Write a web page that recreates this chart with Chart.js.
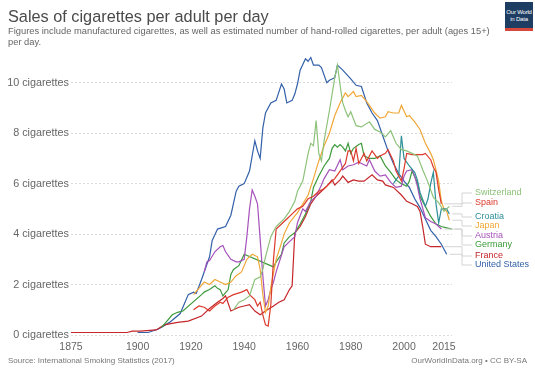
<!DOCTYPE html>
<html><head><meta charset="utf-8">
<script src="https://cdn.jsdelivr.net/npm/chart.js@4"></script>
<style>
body{margin:0;background:#fff;overflow:hidden;font-family:"Liberation Sans",Arial,sans-serif;}
#wrap{position:relative;width:535px;height:377px;}
canvas{position:absolute;left:0;top:0;}
.t{position:absolute;white-space:nowrap;line-height:1;}
#title{left:8px;top:8px;font-size:16.3px;color:#4a4a4a;}
#sub{left:8px;top:26px;font-size:9.35px;line-height:10.5px;color:#666;white-space:normal;width:490px;}
#src{left:8px;top:357px;font-size:8px;color:#777;}
#lic{right:8px;top:357px;font-size:8px;color:#777;}
#logo{position:absolute;left:505px;top:2px;width:28px;height:29px;background:#1d3d63;color:#fff;font-size:6px;letter-spacing:-0.2px;line-height:7px;text-align:center;box-sizing:border-box;padding-top:7px;border-bottom:3px solid #d6473c;white-space:nowrap;}
.lg{position:absolute;left:475px;font-size:9px;line-height:1;white-space:nowrap;}
</style></head>
<body><div id="wrap">
<canvas id="c" width="535" height="377"></canvas>
<div class="t" id="title">Sales of cigarettes per adult per day</div>
<div class="t" id="sub">Figures include manufactured cigarettes, as well as estimated number of hand-rolled cigarettes, per adult (ages 15+) per day.</div>
<div id="logo">Our World<br>in Data</div>
<div class="t" id="src">Source: International Smoking Statistics (2017)</div>
<div class="t" id="lic">OurWorldInData.org • CC BY-SA</div>
<div id="legend"></div>
</div>
<script>
// ---- data ----
const xTickYears = [1875,1900,1920,1940,1960,1980,2000,2015];
const yTickValues = [0,2,4,6,8,10];

const usYears = [1900,1904,1908,1912,1916,1919,1921,1922,1924,1927,1928,1930,1933,1935,1937,1938,1940,1942,1944,1945,1946,1947,1948,1950,1952,1954,1955,1956,1958,1959,1960,1961,1963,1964,1965,1966,1968,1969,1971,1972,1974,1975,1977,1980,1982,1984,1986,1988,1990,1992,1994,1996,1998,2000,2002,2004,2006,2008,2010,2012,2014,2016];
const usValues = [0.1,0.1,0.25,0.5,0.85,1.6,1.7,1.65,2.2,3.1,3.75,4.2,4.3,4.75,5.7,5.9,6.0,6.5,7.7,7.3,7.0,8.2,8.8,9.2,9.3,9.95,9.75,9.2,9.3,9.55,9.95,10.5,10.95,10.85,11.0,10.7,10.7,10.6,10.0,10.1,10.2,10.7,10.5,10.15,9.9,9.85,9.2,8.8,8.5,7.9,7.3,6.8,6.4,6.1,5.85,5.4,5.05,4.6,4.15,3.9,3.6,3.2];

const franceYears = [1875,1896,1898,1901,1907,1910,1915,1919,1924,1927,1930,1932,1933,1935,1938,1940,1942,1944,1946,1948,1951,1953,1955,1957,1958,1959,1961,1963,1965,1967,1969,1971,1973,1974,1976,1977,1979,1981,1983,1985,1988,1990,1992,1993,1996,1999,2001,2003,2005,2006,2007,2008,2010,2012,2014];
const franceValues = [0.1,0.1,0.15,0.15,0.2,0.4,0.5,0.55,0.75,1.05,1.3,1.45,1.55,0.95,1.1,1.15,1.2,0.95,0.8,0.95,1.15,1.3,1.4,1.8,1.95,4.05,4.3,4.7,5.2,5.5,5.7,5.9,6.15,5.95,6.15,6.3,6.05,6.15,6.1,6.1,6.35,6.15,6.1,5.95,5.85,5.55,5.3,5.2,5.1,4.9,4.3,3.6,3.5,3.5,3.5];

const spainYears = [1921,1923,1925,1927,1929,1931,1932,1934,1936,1939,1941,1942,1944,1945,1946,1947,1948,1949,1950,1951,1952,1954,1956,1958,1960,1962,1964,1966,1968,1970,1972,1974,1976,1978,1979,1980,1981,1982,1983,1985,1986,1988,1990,1991,1993,1994,1996,1997,1999,2000,2001,2003,2005,2007,2008,2010,2011,2012,2013,2014];
const spainValues = [1.0,1.15,1.1,0.95,1.15,1.3,1.25,1.5,1.6,1.7,1.8,1.6,1.4,1.15,1.3,0.8,0.4,0.35,1.2,3.0,4.2,4.4,4.6,4.8,5.0,5.1,5.4,5.5,5.7,5.8,6.0,6.2,6.5,6.8,7.3,7.3,6.9,7.4,6.8,7.2,6.9,7.3,7.0,7.1,7.2,7.35,6.9,6.5,6.1,6.6,7.2,7.15,7.15,7.15,7.2,6.95,6.65,6.45,5.75,5.2];

const germanyYears = [1909,1911,1913,1915,1917,1924,1925,1927,1929,1930,1931,1932,1934,1935,1936,1938,1940,1951,1952,1954,1955,1957,1959,1961,1963,1965,1966,1968,1970,1972,1973,1974,1975,1976,1977,1978,1979,1980,1981,1983,1984,1985,1987,1989,1991,1993,1995,1997,1999,2001,2002,2003,2005,2006,2008,2010,2012,2014,2016,2018];
const germanyValues = [0.3,0.55,0.8,0.9,0.95,1.6,1.7,1.8,1.95,1.85,1.8,1.55,1.8,2.4,2.6,2.75,3.2,2.7,2.9,3.2,3.65,3.9,4.05,4.4,4.8,5.3,5.85,6.3,6.7,7.0,7.4,7.55,7.45,7.55,7.45,7.3,7.6,7.2,7.4,7.55,7.6,7.1,7.0,7.0,7.1,6.7,6.45,6.15,6.0,5.9,6.1,6.5,6.05,5.5,5.1,4.7,4.4,4.3,4.25,4.2];

const austriaYears = [1925,1926,1927,1929,1931,1932,1933,1935,1937,1938,1940,1941,1942,1943,1944,1945,1946,1947,1948,1949,1950,1951,1952,1955,1957,1959,1960,1962,1963,1965,1967,1969,1970,1972,1974,1976,1977,1979,1981,1983,1986,1987,1989,1991,1993,1995,1997,1999,2000,2001,2003,2004,2005,2006,2008,2010,2012,2014];
const austriaValues = [2.5,2.9,2.95,3.3,3.5,3.55,3.3,3.0,2.9,2.9,3.0,3.9,5.0,5.75,5.5,5.2,3.8,2.35,1.15,1.4,1.8,2.1,2.5,3.5,3.7,3.9,4.45,5.0,4.9,5.3,5.5,5.95,6.2,6.55,6.5,6.95,6.55,6.7,6.75,6.85,6.7,6.95,6.5,6.3,6.35,6.05,5.85,5.9,6.3,6.5,6.55,6.3,5.9,5.4,4.65,4.5,4.4,4.2];

const japanYears = [1921,1925,1927,1929,1931,1933,1935,1937,1939,1941,1943,1945,1946,1947,1948,1949,1950,1952,1954,1955,1957,1960,1962,1964,1966,1968,1970,1972,1974,1976,1977,1978,1979,1981,1982,1984,1986,1987,1989,1991,1993,1994,1996,1998,1999,2001,2002,2004,2006,2008,2010,2011,2012,2013,2014,2015,2016,2017];
const japanValues = [1.6,2.1,2.0,2.2,2.1,2.0,2.1,2.35,2.5,3.0,3.2,3.1,2.6,1.6,0.9,1.15,1.9,3.0,3.65,4.0,4.45,4.85,5.2,5.55,6.2,6.9,7.5,8.0,8.7,9.2,9.4,9.6,9.45,9.65,9.45,9.5,9.25,9.1,8.8,8.6,8.65,8.85,8.8,8.8,9.1,8.65,8.7,8.45,8.15,7.6,7.2,6.95,6.55,6.1,5.3,5.0,4.9,4.55];

const croatiaYears = [1996,1998,1999,2000,2002,2004,2005,2006,2008,2009,2010,2011,2012,2013,2014,2016,2017];
const croatiaValues = [6.0,6.3,7.9,7.0,6.7,6.45,6.15,5.65,5.1,5.4,6.0,6.45,5.2,4.45,5.0,5.0,4.8];

const switzerlandYears = [1936,1938,1940,1942,1944,1946,1947,1948,1950,1951,1952,1953,1955,1957,1959,1960,1962,1964,1965,1966,1967,1968,1969,1970,1972,1974,1975,1976,1977,1978,1979,1980,1982,1984,1987,1989,1991,1993,1995,1997,1999,2001,2003,2005,2007,2009,2011,2013,2015,2017];
const switzerlandValues = [1.0,1.3,1.4,1.55,2.2,2.3,2.6,3.1,3.9,4.1,4.3,4.4,4.6,4.9,5.3,5.7,6.1,7.2,7.6,7.5,8.5,7.2,6.9,7.7,8.9,10.2,10.7,9.9,9.2,8.9,8.65,8.85,8.3,8.25,8.45,8.15,8.05,7.85,8.1,7.6,7.35,7.3,7.2,7.1,6.55,6.05,5.45,5.25,4.9,5.1];

// ---- series ----
const series = [
  {name:'Switzerland', years:switzerlandYears, values:switzerlandValues, color:'#8dc27a'},
  {name:'Spain', years:spainYears, values:spainValues, color:'#dc3a2c'},
  {name:'Croatia', years:croatiaYears, values:croatiaValues, color:'#2d8f98'},
  {name:'Japan', years:japanYears, values:japanValues, color:'#f0a737'},
  {name:'Austria', years:austriaYears, values:austriaValues, color:'#a652ba'},
  {name:'Germany', years:germanyYears, values:germanyValues, color:'#3c9a3c'},
  {name:'France', years:franceYears, values:franceValues, color:'#c4262a'},
  {name:'United States', years:usYears, values:usValues, color:'#3360a9'}
];
const legendTops = [188,198,212,221,231,240,251,260];

const legendDiv = document.getElementById('legend');
series.forEach((s,i)=>{
  const d=document.createElement('div');
  d.className='lg'; d.textContent=s.name; d.style.color=s.color; d.style.top=legendTops[i]+'px';
  legendDiv.appendChild(d);
});

const connectorPlugin = {
  id:'connectors',
  afterDatasetsDraw(chart){
    const {ctx, scales:{x,y}} = chart;
    ctx.save();
    ctx.strokeStyle='#d4d4d4'; ctx.lineWidth=1;
    series.forEach((s,i)=>{
      const n=s.years.length-1;
      const px=x.getPixelForValue(s.years[n]);
      const py=y.getPixelForValue(s.values[n]);
      const ly=legendTops[i]+5;
      ctx.beginPath();
      ctx.moveTo(px+3,py);
      ctx.lineTo(462,py);
      ctx.lineTo(462,ly);
      ctx.lineTo(472,ly);
      ctx.stroke();
    });
    ctx.restore();
  }
};

const datasets = series.map(s=>({
  label:s.name,
  data:s.years.map((yr,i)=>({x:yr,y:s.values[i]})),
  borderColor:s.color, backgroundColor:s.color,
  borderWidth:1.2, pointRadius:0, tension:0, fill:false
}));

new Chart(document.getElementById('c'),{
  type:'line',
  data:{datasets},
  plugins:[connectorPlugin],
  options:{
    responsive:false, animation:false,
    layout:{padding:{top:55,right:83,bottom:24,left:0}},
    plugins:{legend:{display:false},tooltip:{enabled:false},title:{display:false}},
    scales:{
      x:{type:'linear',min:1875,max:2018,
        afterBuildTicks:s=>{s.ticks=xTickYears.map(v=>({value:v}));},
        afterFit:s=>{s.height=18;},
        grid:{display:false,drawTicks:false}, border:{display:false},
        ticks:{color:'#666',font:{family:'"Liberation Sans",Arial,sans-serif',size:10.5},padding:6,maxRotation:0,autoSkip:false,callback:v=>String(v)}
      },
      y:{min:0,max:11.1,
        afterBuildTicks:s=>{s.ticks=yTickValues.map(v=>({value:v}));},
        afterFit:s=>{s.width=71;},
        grid:{color:'#dcdcdc',lineWidth:1,drawTicks:false},
        border:{display:false,dash:[2,2]},
        ticks:{color:'#666',font:{family:'"Liberation Sans",Arial,sans-serif',size:10.8},padding:2,callback:v=>v+' cigarettes'}
      }
    }
  }
});
</script>
</body></html>
